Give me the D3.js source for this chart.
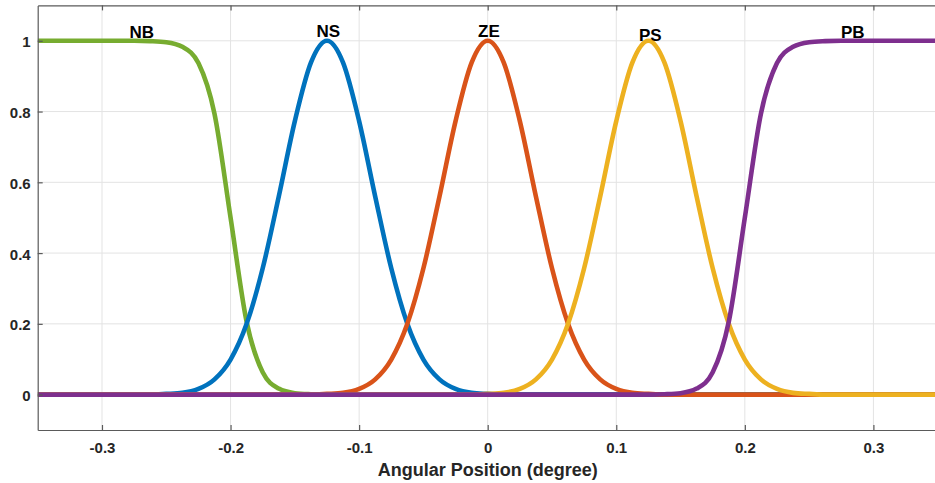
<!doctype html>
<html lang="en">
<head>
<meta charset="utf-8">
<style>
  body, html { margin: 0; padding: 0; background: white; overflow: hidden; }
  svg { position: absolute; top: 0; left: 0; }
  text { font-family: "Liberation Sans", Arial, sans-serif; font-weight: bold; fill: #262626; }
</style>
</head>
<body>
<div id="chart"></div>
<script src="https://d3js.org/d3.v7.min.js"></script>
<script>

// sample positions, -0.35 .. 0.35 every 0.0125
const xs = d3.range(57).map(i => -0.35 + 0.0125 * i);

const NB = [
  1,1,1,1,1,1,1,
  0.999,0.996,0.983,0.937,0.794,0.5,0.206,0.063,0.017,0.004,0.001,
  0,0,0,0,0,0,0,0,0,0,0,0,0,0,0,0,0,0,0,0,0,0,0,0,0,0,0,0,0,0,0,0,0,0,0,0,0,0,0
];
const NS = [
  0,0,0,0,0,0,0,0,
  0.002,0.005,0.016,0.043,0.099,0.200,0.357,0.560,0.773,0.938,1,0.938,0.773,0.560,0.357,0.200,0.099,0.043,0.016,0.005,0.002,
  0,0,0,0,0,0,0,0,0,0,0,0,0,0,0,0,0,0,0,0,0,0,0,0,0,0,0,0
];
const ZE = [
  0,0,0,0,0,0,0,0,0,0,0,0,0,0,0,0,0,0,
  0.002,0.005,0.016,0.043,0.099,0.200,0.357,0.560,0.773,0.938,1,0.938,0.773,0.560,0.357,0.200,0.099,0.043,0.016,0.005,0.002,
  0,0,0,0,0,0,0,0,0,0,0,0,0,0,0,0,0,0
];
const PS = [
  0,0,0,0,0,0,0,0,0,0,0,0,0,0,0,0,0,0,0,0,0,0,0,0,0,0,0,0,
  0.002,0.005,0.016,0.043,0.099,0.200,0.357,0.560,0.773,0.938,1,0.938,0.773,0.560,0.357,0.200,0.099,0.043,0.016,0.005,0.002,
  0,0,0,0,0,0,0,0
];
const PB = [
  0,0,0,0,0,0,0,0,0,0,0,0,0,0,0,0,0,0,0,0,0,0,0,0,0,0,0,0,0,0,0,0,0,0,0,0,0,0,0,
  0.001,0.004,0.017,0.063,0.206,0.5,0.794,0.937,0.983,0.996,0.999,
  1,1,1,1,1,1,1
];

const seriesNames = ["NB", "NS", "ZE", "PS", "PB"];
const seriesColors = ["#77AC30", "#0072BD", "#D95319", "#EDB120", "#7E2F8E"];
const seriesValues = [NB, NS, ZE, PS, PB];

// label anchors in data units
const labelX = [-0.269, -0.124, 0.001, 0.1265, 0.284];
const labelY = [1.007, 1.01, 1.01, 0.998, 1.007];

const xTicks = [-0.3, -0.2, -0.1, 0, 0.1, 0.2, 0.3];
const xTickLabels = ["-0.3", "-0.2", "-0.1", "0", "0.1", "0.2", "0.3"];
const yTicks = [0, 0.2, 0.4, 0.6, 0.8, 1];
const yTickLabels = ["0", "0.2", "0.4", "0.6", "0.8", "1"];
const xTitle = "Angular Position (degree)";

const W = 935, H = 483;
const svg = d3.select("#chart").append("svg").attr("width", W).attr("height", H);

const x = d3.scaleLinear().domain([-0.35, 0.35]).range([37.7, 937.7]);
const y = d3.scaleLinear().domain([-0.1, 1.1]).range([430, 5.4]);

svg.append("defs").append("clipPath").attr("id", "plot")
  .append("rect")
  .attr("x", x(-0.35)).attr("y", y(1.1))
  .attr("width", x(0.35) - x(-0.35)).attr("height", y(-0.1) - y(1.1));

// grid
const grid = svg.append("g");
grid.selectAll("line.gx").data(xTicks).enter().append("line")
  .attr("x1", d => x(d)).attr("x2", d => x(d))
  .attr("y1", y(1.1)).attr("y2", y(-0.1))
  .style("stroke", "#e3e3e3").style("stroke-width", 1);
grid.selectAll("line.gy").data(yTicks).enter().append("line")
  .attr("x1", x(-0.35)).attr("x2", x(0.35))
  .attr("y1", d => y(d)).attr("y2", d => y(d))
  .style("stroke", "#e3e3e3").style("stroke-width", 1);

// curves
const line = d3.line()
  .x((d, i) => x(xs[i]))
  .y(d => y(d))
  .curve(d3.curveMonotoneX);

svg.append("g").attr("clip-path", "url(#plot)")
  .selectAll("path").data(seriesValues).enter().append("path")
  .attr("d", d => line(d))
  .style("fill", "none")
  .style("stroke", (d, i) => seriesColors[i])
  .style("stroke-width", 4.6);

// axes with inward ticks
const axisColor = "#5a5a5a";
const gBottom = svg.append("g").attr("transform", `translate(0,${y(-0.1)})`)
  .call(d3.axisBottom(x).tickValues(xTicks).tickSizeInner(-5).tickSizeOuter(0).tickPadding(12)
    .tickFormat((d, i) => xTickLabels[i]));
const gTop = svg.append("g").attr("transform", `translate(0,${y(1.1)})`)
  .call(d3.axisTop(x).tickValues(xTicks).tickSizeInner(-5).tickSizeOuter(0).tickFormat(""));
const gLeft = svg.append("g").attr("transform", `translate(${x(-0.35)},0)`)
  .call(d3.axisLeft(y).tickValues(yTicks).tickSizeInner(-5).tickSizeOuter(0).tickPadding(7)
    .tickFormat((d, i) => yTickLabels[i]));

[gBottom, gTop, gLeft].forEach(g => {
  g.select(".domain").style("stroke", axisColor).style("stroke-width", 1.2);
  g.selectAll(".tick line").style("stroke", axisColor).style("stroke-width", 1.2);
  g.selectAll(".tick text").style("font-size", "15px").attr("font-family", null).attr("fill", null);
});
gBottom.selectAll(".tick text").attr("dy", "0.72em");
gLeft.selectAll(".tick text").attr("dy", "0.4em");

// series labels
svg.selectAll("text.lbl").data(seriesNames).enter().append("text")
  .attr("x", (d, i) => x(labelX[i]))
  .attr("y", (d, i) => y(labelY[i]))
  .attr("text-anchor", "middle")
  .style("font-size", "17px")
  .style("fill", "#000")
  .text(d => d);

svg.append("text")
  .attr("x", x(0))
  .attr("y", 476)
  .attr("text-anchor", "middle")
  .style("font-size", "18px")
  .text(xTitle);

</script>
</body>
</html>
